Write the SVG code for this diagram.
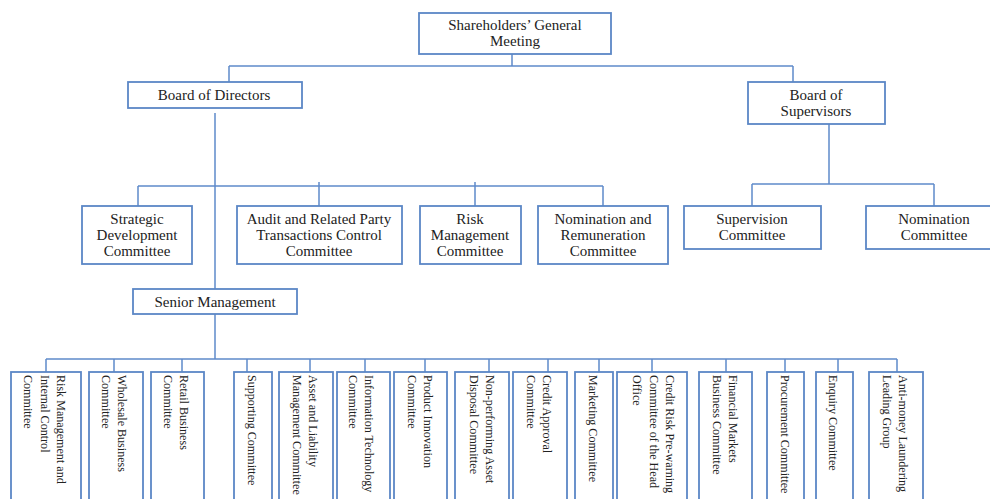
<svg xmlns="http://www.w3.org/2000/svg" width="990" height="499" viewBox="0 0 990 499">
<style>
.box{fill:#fff;stroke:#5b87c6;stroke-width:1.8}
.ln{fill:none;stroke:#5f8bca;stroke-width:1.5}
.t{font-family:"Liberation Serif","Times New Roman",serif;font-size:15px;fill:#222;text-anchor:middle}
.v{font-family:"Liberation Serif","Times New Roman",serif;font-size:13px;fill:#222}
</style>
<rect width="990" height="499" fill="#fff"/>
<g id="connectors">
<path class="ln" d="M512 54V66M229 66H793M229 66V82M793 66V82"/>
<path class="ln" d="M215 113V289M138 186H603M138 186V206M319 182V206M475 182V206M603 186V206"/>
<path class="ln" d="M829 124V184M752 184H934M752 184V206M934 184V206"/>
<path class="ln" d="M215 314V359M46 359H897M46 359V372M114 359V372M182 359V372M247 359V372M310 359V372M365 359V372M425 359V372M489 359V372M548 359V372M599 359V372M652 359V372M726 359V372M785 359V372M838 359V372M897 359V372"/>
</g>
<g id="shareholders"><rect class="box" x="419" y="13" width="192" height="41"/><text class="t" x="515" y="30">Shareholders’ General</text><text class="t" x="515" y="46">Meeting</text></g>
<g id="board-directors"><rect class="box" x="128" y="82" width="174" height="26"/><text class="t" x="214" y="100">Board of Directors</text></g>
<g id="board-supervisors"><rect class="box" x="748" y="82" width="137" height="42"/><text class="t" x="816" y="100">Board of</text><text class="t" x="816" y="116">Supervisors</text></g>
<g id="strategic"><rect class="box" x="82" y="206" width="110" height="58"/><text class="t" x="137" y="224">Strategic</text><text class="t" x="137" y="240">Development</text><text class="t" x="137" y="256">Committee</text></g>
<g id="audit"><rect class="box" x="237" y="206" width="165" height="58"/><text class="t" x="319" y="224">Audit and Related Party</text><text class="t" x="319" y="240">Transactions Control</text><text class="t" x="319" y="256">Committee</text></g>
<g id="risk"><rect class="box" x="420" y="206" width="101" height="58"/><text class="t" x="470" y="224">Risk</text><text class="t" x="470" y="240">Management</text><text class="t" x="470" y="256">Committee</text></g>
<g id="nomination-remuneration"><rect class="box" x="538" y="206" width="130" height="58"/><text class="t" x="603" y="224">Nomination and</text><text class="t" x="603" y="240">Remuneration</text><text class="t" x="603" y="256">Committee</text></g>
<g id="supervision"><rect class="box" x="684" y="206" width="137" height="43"/><text class="t" x="752" y="224">Supervision</text><text class="t" x="752" y="240">Committee</text></g>
<g id="nomination"><rect class="box" x="866" y="206" width="140" height="43"/><text class="t" x="934" y="224">Nomination</text><text class="t" x="934" y="240">Committee</text></g>
<g id="senior"><rect class="box" x="133" y="289" width="164" height="25"/><text class="t" x="215" y="307">Senior Management</text></g>
<g id="b1"><rect class="box" x="11" y="372" width="70" height="140"/><text class="v" transform="translate(57 375) rotate(90) scale(0.93 1)"><tspan x="0" y="0">Risk Management and</tspan><tspan x="0" dy="16.5">Internal Control</tspan><tspan x="0" dy="16.5">Committee</tspan></text></g>
<g id="b2"><rect class="box" x="89" y="372" width="54" height="140"/><text class="v" transform="translate(118 375) rotate(90) scale(0.93 1)"><tspan x="0" y="0">Wholesale Business</tspan><tspan x="0" dy="16.5">Committee</tspan></text></g>
<g id="b3"><rect class="box" x="151" y="372" width="53" height="140"/><text class="v" transform="translate(180 375) rotate(90) scale(0.93 1)"><tspan x="0" y="0">Retail Business</tspan><tspan x="0" dy="16.5">Committee</tspan></text></g>
<g id="b4"><rect class="box" x="234" y="372" width="38" height="140"/><text class="v" transform="translate(248 375) rotate(90) scale(0.93 1)">Supporting Committee</text></g>
<g id="b5"><rect class="box" x="279" y="372" width="54" height="140"/><text class="v" transform="translate(309 375) rotate(90) scale(0.93 1)"><tspan x="0" y="0">Asset and Liability</tspan><tspan x="0" dy="16.5">Management Committee</tspan></text></g>
<g id="b6"><rect class="box" x="337" y="372" width="53" height="140"/><text class="v" transform="translate(365 375) rotate(90) scale(0.93 1)"><tspan x="0" y="0">Information Technology</tspan><tspan x="0" dy="16.5">Committee</tspan></text></g>
<g id="b7"><rect class="box" x="394" y="372" width="53" height="140"/><text class="v" transform="translate(424 375) rotate(90) scale(0.93 1)"><tspan x="0" y="0">Product Innovation</tspan><tspan x="0" dy="16.5">Committee</tspan></text></g>
<g id="b8"><rect class="box" x="455" y="372" width="54" height="140"/><text class="v" transform="translate(486 375) rotate(90) scale(0.93 1)"><tspan x="0" y="0">Non-performing Asset</tspan><tspan x="0" dy="16.5">Disposal Committee</tspan></text></g>
<g id="b9"><rect class="box" x="513" y="372" width="54" height="140"/><text class="v" transform="translate(543 375) rotate(90) scale(0.93 1)"><tspan x="0" y="0">Credit Approval</tspan><tspan x="0" dy="16.5">Committee</tspan></text></g>
<g id="b10"><rect class="box" x="575" y="372" width="38" height="140"/><text class="v" transform="translate(589 375) rotate(90) scale(0.93 1)">Marketing Committee</text></g>
<g id="b11"><rect class="box" x="617" y="372" width="70" height="140"/><text class="v" transform="translate(666 375) rotate(90) scale(0.93 1)"><tspan x="0" y="0">Credit Risk Pre-warning</tspan><tspan x="0" dy="16.5">Committee of the Head</tspan><tspan x="0" dy="16.5">Office</tspan></text></g>
<g id="b12"><rect class="box" x="699" y="372" width="53" height="140"/><text class="v" transform="translate(729 375) rotate(90) scale(0.93 1)"><tspan x="0" y="0">Financial Markets</tspan><tspan x="0" dy="16.5">Business Committee</tspan></text></g>
<g id="b13"><rect class="box" x="767" y="372" width="37" height="140"/><text class="v" transform="translate(781 375) rotate(90) scale(0.93 1)">Procurement Committee</text></g>
<g id="b14"><rect class="box" x="816" y="372" width="37" height="140"/><text class="v" transform="translate(829 375) rotate(90) scale(0.93 1)">Enquiry Committee</text></g>
<g id="b15"><rect class="box" x="869" y="372" width="54" height="140"/><text class="v" transform="translate(899 375) rotate(90) scale(0.93 1)"><tspan x="0" y="0">Anti-money Laundering</tspan><tspan x="0" dy="16.5">Leading Group</tspan></text></g>
</svg>
